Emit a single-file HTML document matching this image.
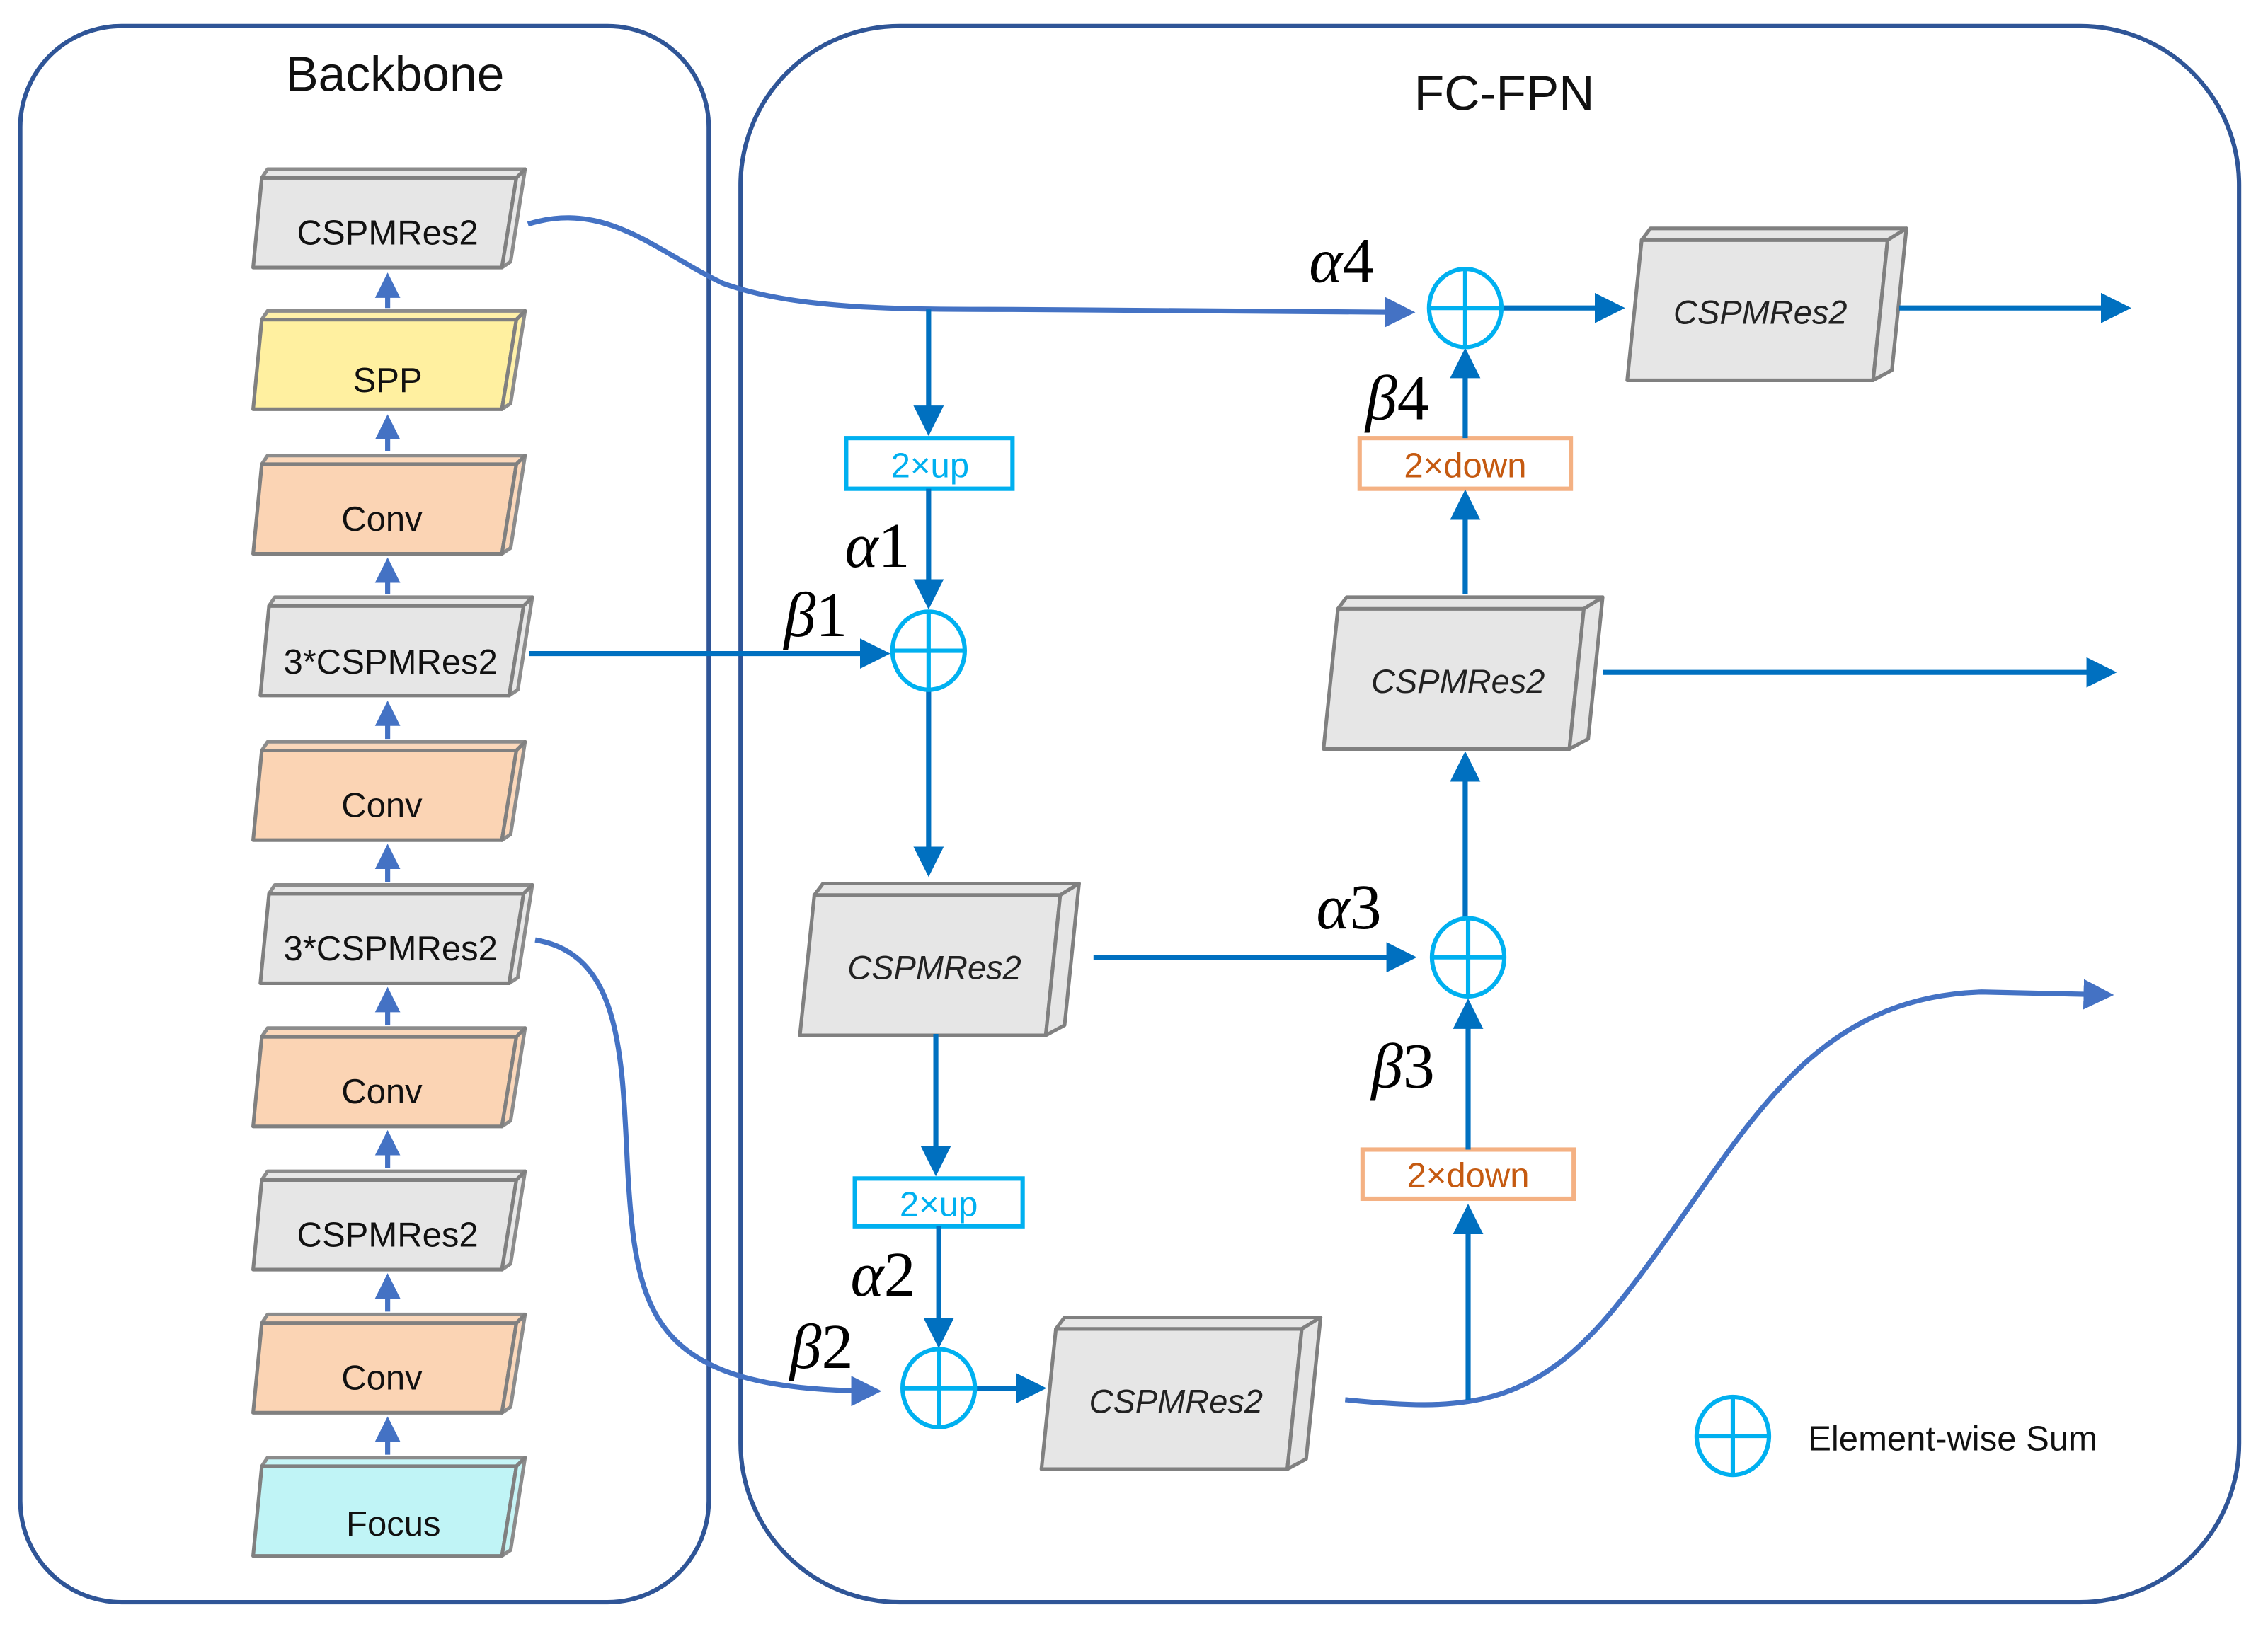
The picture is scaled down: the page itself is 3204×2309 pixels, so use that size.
<!DOCTYPE html>
<html><head><meta charset="utf-8"><style>html,body{margin:0;padding:0;background:#fff}svg{display:block}</style></head>
<body>
<svg width="3204" height="2309" viewBox="0 0 1568 1130" xmlns="http://www.w3.org/2000/svg">
<defs>
<marker id="ab" markerWidth="6" markerHeight="6" refX="5" refY="3" orient="auto" markerUnits="strokeWidth"><path d="M0,0 L6,3 L0,6 z" fill="#0070c0"/></marker>
<marker id="ac" markerWidth="6" markerHeight="6" refX="5" refY="3" orient="auto" markerUnits="strokeWidth"><path d="M0,0 L6,3 L0,6 z" fill="#4472c4"/></marker>
<marker id="ad" markerWidth="5" markerHeight="5" refX="4" refY="2.5" orient="auto" markerUnits="strokeWidth"><path d="M0,0 L5,2.5 L0,5 z" fill="#4472c4"/></marker>
<g id="bb" stroke="#808080" stroke-width="2.5" stroke-linejoin="round">
<path d="M6,6 L182,6 L172,68 L0,68 Z"/>
<path d="M6,6 L10,0 L188,0 L182,6 Z" opacity="0.9"/>
<path d="M182,6 L188,0 L178,64 L172,68 Z" opacity="0.9"/>
</g>
<g id="bf" stroke="#808080" stroke-width="2.5" stroke-linejoin="round">
<path d="M10,8 L180,8 L170,105 L0,105 Z"/>
<path d="M10,8 L16,0 L193,0 L180,8 Z"/>
<path d="M180,8 L193,0 L183,98 L170,105 Z"/>
</g>
<g id="c" fill="none" stroke="#00b0f0" stroke-width="3">
<ellipse cx="0" cy="0" rx="25" ry="27"/>
<line x1="-25" y1="0" x2="25" y2="0"/><line x1="0" y1="-27" x2="0" y2="27"/>
</g>
</defs>
<rect x="14" y="18" width="476" height="1090" rx="70" fill="none" stroke="#2f5597" stroke-width="3"/>
<rect x="512" y="18" width="1036" height="1090" rx="110" fill="none" stroke="#2f5597" stroke-width="3"/>
<g font-family="Liberation Sans, sans-serif" font-size="34" fill="#111" text-anchor="middle">
<text x="273" y="63">Backbone</text>
<text x="1040" y="76">FC-FPN</text>
</g>
<use href="#bb" x="175" y="117" fill="#e6e6e6"/>
<use href="#bb" x="175" y="215" fill="#fff0a0"/>
<use href="#bb" x="175" y="315" fill="#fbd4b4"/>
<use href="#bb" x="180" y="413" fill="#e6e6e6"/>
<use href="#bb" x="175" y="513" fill="#fbd4b4"/>
<use href="#bb" x="180" y="612" fill="#e6e6e6"/>
<use href="#bb" x="175" y="711" fill="#fbd4b4"/>
<use href="#bb" x="175" y="810" fill="#e6e6e6"/>
<use href="#bb" x="175" y="909" fill="#fbd4b4"/>
<use href="#bb" x="175" y="1008" fill="#c0f4f6"/>
<g font-family="Liberation Sans, sans-serif" font-size="24" fill="#111" text-anchor="middle">
<text x="268" y="169">CSPMRes2</text>
<text x="268" y="271">SPP</text>
<text x="264" y="367">Conv</text>
<text x="270" y="466">3*CSPMRes2</text>
<text x="264" y="565">Conv</text>
<text x="270" y="664">3*CSPMRes2</text>
<text x="264" y="763">Conv</text>
<text x="268" y="862">CSPMRes2</text>
<text x="264" y="961">Conv</text>
<text x="272" y="1062">Focus</text>
</g>
<g stroke="#4472c4" stroke-width="3.5" marker-end="url(#ad)">
<line x1="268" y1="213" x2="268" y2="192"/>
<line x1="268" y1="312" x2="268" y2="290"/>
<line x1="268" y1="411" x2="268" y2="389"/>
<line x1="268" y1="511" x2="268" y2="488"/>
<line x1="268" y1="610" x2="268" y2="587"/>
<line x1="268" y1="709" x2="268" y2="686"/>
<line x1="268" y1="808" x2="268" y2="785"/>
<line x1="268" y1="907" x2="268" y2="884"/>
<line x1="268" y1="1006" x2="268" y2="983"/>
</g>
<use href="#bf" x="1125" y="158" fill="#e6e6e6"/>
<use href="#bf" x="915" y="413" fill="#e6e6e6"/>
<use href="#bf" x="553" y="611" fill="#e6e6e6"/>
<use href="#bf" x="720" y="911" fill="#e6e6e6"/>
<g font-family="Liberation Sans, sans-serif" font-size="23" font-style="italic" fill="#222" text-anchor="middle">
<text x="1217" y="224">CSPMRes2</text>
<text x="1008" y="479">CSPMRes2</text>
<text x="646" y="677">CSPMRes2</text>
<text x="813" y="977">CSPMRes2</text>
</g>
<g fill="#fff" stroke-width="3">
<rect x="585" y="303" width="115" height="35" stroke="#00b0f0"/>
<rect x="591" y="815" width="116" height="33" stroke="#00b0f0"/>
<rect x="940" y="303" width="146" height="35" stroke="#f4b183"/>
<rect x="942" y="795" width="146" height="34" stroke="#f4b183"/>
</g>
<g font-family="Liberation Sans, sans-serif" font-size="24" text-anchor="middle">
<text x="643" y="330" fill="#00b0f0">2×up</text>
<text x="649" y="841" fill="#00b0f0">2×up</text>
<text x="1013" y="330" fill="#c55a11">2×down</text>
<text x="1015" y="821" fill="#c55a11">2×down</text>
</g>
<g fill="none" stroke="#4472c4" stroke-width="3.5">
<path d="M365,155 C420,138 455,175 500,196 C550,214 620,214 700,214 L975,216" marker-end="url(#ac)"/>
<path d="M370,650 C430,660 430,730 434,810 C440,910 450,962 606,962" marker-end="url(#ac)"/>
<path d="M930,968 C1010,976 1060,976 1120,900 C1200,800 1240,690 1370,686 L1458,688" marker-end="url(#ac)"/>
</g>
<g stroke="#0070c0" stroke-width="3.5" marker-end="url(#ab)">
<line x1="642" y1="214" x2="642" y2="298"/>
<line x1="642" y1="338" x2="642" y2="418"/>
<line x1="366" y1="452" x2="612" y2="452"/>
<line x1="642" y1="477" x2="642" y2="603"/>
<line x1="756" y1="662" x2="976" y2="662"/>
<line x1="647" y1="715" x2="647" y2="810"/>
<line x1="649" y1="848" x2="649" y2="929"/>
<line x1="675" y1="960" x2="720" y2="960"/>
<line x1="1015" y1="968" x2="1015" y2="836"/>
<line x1="1015" y1="795" x2="1015" y2="694"/>
<line x1="1013" y1="634" x2="1013" y2="523"/>
<line x1="1013" y1="411" x2="1013" y2="342"/>
<line x1="1013" y1="303" x2="1013" y2="244"/>
<line x1="1039" y1="213" x2="1120" y2="213"/>
<line x1="1313" y1="213" x2="1470" y2="213"/>
<line x1="1108" y1="465" x2="1460" y2="465"/>
</g>
<use href="#c" x="1013" y="213"/>
<use href="#c" x="642" y="450"/>
<use href="#c" x="1015" y="662"/>
<use href="#c" x="649" y="960"/>
<use href="#c" x="1198" y="993"/>
<text x="1250" y="1003" font-family="Liberation Sans, sans-serif" font-size="24" fill="#111">Element-wise Sum</text>
<g font-family="Liberation Serif, serif" font-size="44" fill="#000">
<text x="905" y="195"><tspan font-style="italic">α</tspan>4</text>
<text x="944" y="290"><tspan font-style="italic">β</tspan>4</text>
<text x="584" y="392"><tspan font-style="italic">α</tspan>1</text>
<text x="542" y="440"><tspan font-style="italic">β</tspan>1</text>
<text x="910" y="642"><tspan font-style="italic">α</tspan>3</text>
<text x="948" y="752"><tspan font-style="italic">β</tspan>3</text>
<text x="588" y="896"><tspan font-style="italic">α</tspan>2</text>
<text x="546" y="946"><tspan font-style="italic">β</tspan>2</text>
</g>
</svg>
</body></html>
